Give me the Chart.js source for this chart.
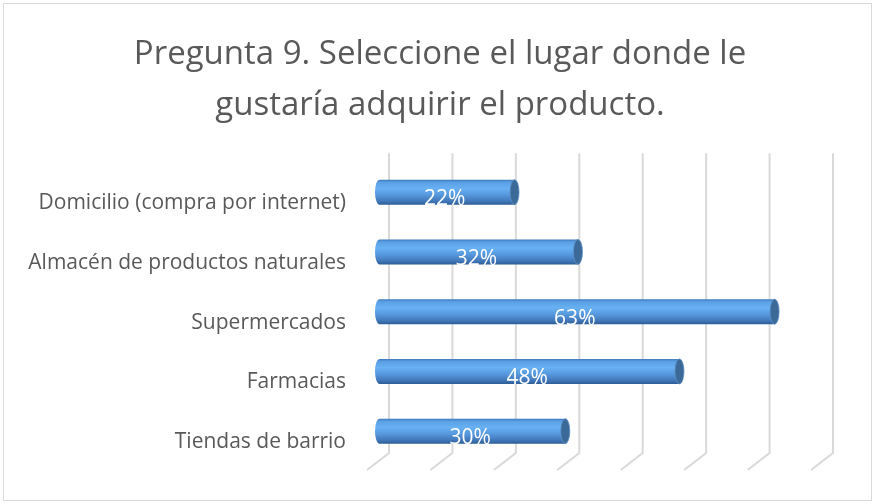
<!DOCTYPE html>
<html>
<head>
<meta charset="utf-8">
<script src="https://cdn.jsdelivr.net/npm/chart.js@4.4.0/dist/chart.umd.min.js"></script>
<style>
  html, body { margin: 0; padding: 0; background: #fff; }
  #wrap { width: 875px; height: 504px; }
</style>
</head>
<body>
<div id="wrap"><canvas id="lugarChart"></canvas></div>
<script>
// Datos de la gráfica
const categorias = [
    'Domicilio (compra por internet)',
    'Almacén de productos naturales',
    'Supermercados',
    'Farmacias',
    'Tiendas de barrio'
];
const porcentajes = [0.22, 0.32, 0.63, 0.48, 0.30];
const etiquetas = ['22%', '32%', '63%', '48%', '30%'];
const titulo = ['Pregunta 9. Seleccione el lugar donde le', 'gustaría adquirir el producto.'];

const fuente = "'Open Sans', 'Noto Sans', sans-serif";

// Fondo y borde del gráfico
const bordePlugin = {
    id: 'borde',
    afterLayout(chart) {
        // centrar el titulo sobre todo el lienzo
        if (chart.titleBlock) {
            chart.titleBlock.left = 5;
            chart.titleBlock.right = chart.width;
            chart.titleBlock.width = chart.width - 5;
        }
    },
    beforeDraw(chart) {
        const ctx = chart.ctx;
        ctx.save();
        ctx.fillStyle = '#ffffff';
        ctx.fillRect(0, 0, chart.width, chart.height);
        ctx.strokeStyle = '#d9d9d9';
        ctx.lineWidth = 1;
        ctx.strokeRect(3.5, 3.5, chart.width - 7, chart.height - 7);
        ctx.restore();
    }
};

// Lineas verticales con efecto 3D
const rejillaPlugin = {
    id: 'rejilla3d',
    beforeDatasetsDraw(chart) {
        const ctx = chart.ctx;
        const xs = chart.scales.x;
        const area = chart.chartArea;
        ctx.save();
        ctx.strokeStyle = '#d9d9d9';
        ctx.lineWidth = 2;
        for (let v = 0; v <= 0.7001; v += 0.1) {
            const px = xs.getPixelForValue(v);
            ctx.beginPath();
            ctx.moveTo(px + 14, area.top - 9);
            ctx.lineTo(px + 14, area.bottom - 8);
            ctx.lineTo(px - 8, area.bottom + 9);
            ctx.stroke();
        }
        ctx.restore();
    }
};

// Barras tipo cilindro y etiquetas
const cilindroPlugin = {
    id: 'cilindro',
    afterDatasetsDraw(chart) {
        const ctx = chart.ctx;
        const meta = chart.getDatasetMeta(0);
        ctx.save();
        meta.data.forEach((bar, i) => {
            const h = bar.height;
            const top = bar.y - h / 2;
            const ry = h / 2;
            const rx = 4.5;
            const x0 = bar.base + rx;
            const x1 = bar.x;
            const g = ctx.createLinearGradient(0, top, 0, top + h);
            g.addColorStop(0, '#3d78bb');
            g.addColorStop(0.1, '#5a9fe4');
            g.addColorStop(0.35, '#68b1f3');
            g.addColorStop(0.6, '#5799de');
            g.addColorStop(0.85, '#4379bb');
            g.addColorStop(1, '#2c5d96');
            ctx.fillStyle = g;
            ctx.beginPath();
            ctx.ellipse(x0, bar.y, rx, ry, 0, Math.PI / 2, Math.PI * 1.5);
            ctx.lineTo(x1, top);
            ctx.lineTo(x1, top + h);
            ctx.closePath();
            ctx.fill();
            // tapa del cilindro
            ctx.beginPath();
            ctx.ellipse(x1, bar.y, rx, ry, 0, 0, Math.PI * 2);
            ctx.fillStyle = '#3b6a99';
            ctx.fill();
            ctx.strokeStyle = '#5d8fc4';
            ctx.lineWidth = 0.8;
            ctx.stroke();
            // etiqueta
            ctx.fillStyle = '#ffffff';
            ctx.font = '21px ' + fuente;
            ctx.textAlign = 'center';
            ctx.textBaseline = 'middle';
            ctx.fillText(etiquetas[i], (bar.base + bar.x) / 2, bar.y + 7);
        });
        ctx.restore();
    }
};

const chart = new Chart(document.getElementById('lugarChart'), {
    type: 'bar',
    data: {
        labels: categorias,
        datasets: [{
            data: porcentajes,
            backgroundColor: 'rgba(0,0,0,0)',
            barThickness: 25
        }]
    },
    options: {
        indexAxis: 'y',
        responsive: true,
        maintainAspectRatio: false,
        animation: false,
        layout: { padding: { left: 0, right: 56, top: 0, bottom: 43 } },
        plugins: {
            legend: { display: false },
            tooltip: { enabled: false },
            title: {
                display: true,
                text: titulo,
                color: '#595959',
                font: { family: fuente, size: 33, weight: 'normal', lineHeight: 1.52 },
                padding: { top: 30, bottom: 32 }
            }
        },
        scales: {
            x: {
                display: false,
                min: 0,
                max: 0.7
            },
            y: {
                grid: { display: false },
                border: { display: false },
                afterFit(scale) { scale.width = 375; },
                ticks: {
                    color: '#595959',
                    font: { family: fuente, size: 21 },
                    padding: 21,
                    labelOffset: 11
                }
            }
        }
    },
    plugins: [bordePlugin, rejillaPlugin, cilindroPlugin]
});
</script>
</body>
</html>
